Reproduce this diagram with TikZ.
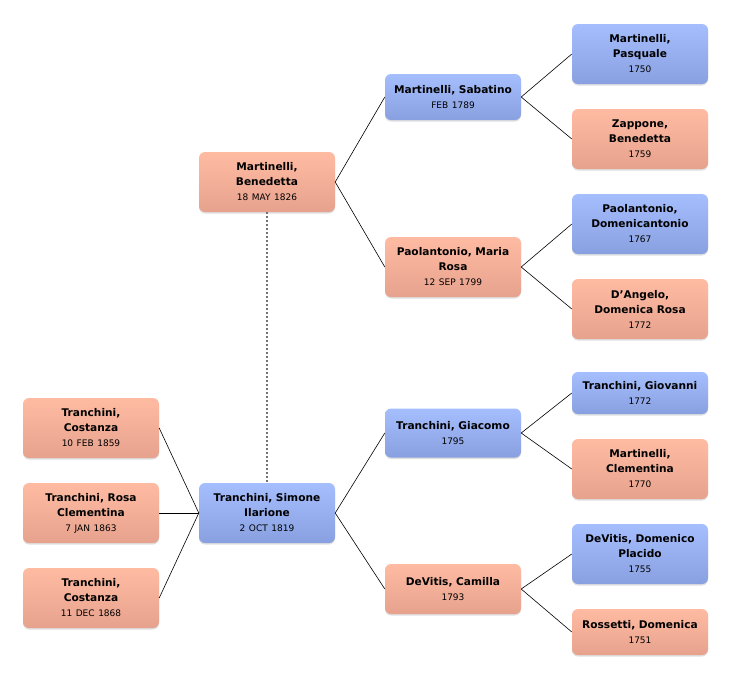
\documentclass[tikz,border=0pt]{standalone}
\usepackage{fontspec}
\setmainfont{DejaVu Sans}
\usetikzlibrary{shadows}

\definecolor{maletop}{RGB}{165,190,254}
\definecolor{malebot}{RGB}{137,160,224}
\definecolor{femtop}{RGB}{255,187,162}
\definecolor{fembot}{RGB}{230,162,141}

\newcommand{\who}[2]{#1\\{\mdseries\fontsize{9}{15}\selectfont #2}}

\tikzset{
    person/.style={rounded corners=6pt, minimum width=136pt, minimum height=46pt,
        text width=132pt, inner xsep=2pt, inner ysep=5pt, align=center,
        font=\bfseries\fontsize{10.6}{15}\selectfont,
        drop shadow={opacity=0.25, shadow xshift=0pt, shadow yshift=-1.5pt}},
    tall/.style={minimum height=60pt},
    male/.style={person, top color=maletop, bottom color=malebot},
    female/.style={person, top color=femtop, bottom color=fembot},
    link/.style={black, line width=0.6pt}
}

\begin{document}
\begin{tikzpicture}[x=1pt, y=-1pt]
        \useasboundingbox (0,0) rectangle (732,678);

        % parents and children
        \node[female, tall] (bened) at (267,182) {\who{Martinelli,\\Benedetta}{18 MAY 1826}};
        \node[male, tall] (simone) at (267,513) {\who{Tranchini, Simone\\Ilarione}{2 OCT 1819}};
        \node[female, tall] (cost1) at (91,428) {\who{Tranchini,\\Costanza}{10 FEB 1859}};
        \node[female, tall] (rosa) at (91,513) {\who{Tranchini, Rosa\\Clementina}{7 JAN 1863}};
        \node[female, tall] (cost2) at (91,598) {\who{Tranchini,\\Costanza}{11 DEC 1868}};

        % grandparents
        \node[male] (sabat) at (453,97) {\who{Martinelli, Sabatino}{FEB 1789}};
        \node[female, tall] (maria) at (453,267) {\who{Paolantonio, Maria\\Rosa}{12 SEP 1799}};
        \node[male, minimum height=49pt] (giacomo) at (453,433) {\who{Tranchini, Giacomo}{1795}};
        \node[female, minimum height=50pt] (camilla) at (453,589) {\who{DeVitis, Camilla}{1793}};

        % great-grandparents
        \node[male, tall] (pasq) at (640,54) {\who{Martinelli,\\Pasquale}{1750}};
        \node[female, tall] (zapp) at (640,139) {\who{Zappone,\\Benedetta}{1759}};
        \node[male, tall] (domant) at (640,224) {\who{Paolantonio,\\Domenicantonio}{1767}};
        \node[female, tall] (dang) at (640,309) {\who{D'Angelo,\\Domenica Rosa}{1772}};
        \node[male, minimum height=42pt] (giov) at (640,393) {\who{Tranchini, Giovanni}{1772}};
        \node[female, tall] (clem) at (640,469) {\who{Martinelli,\\Clementina}{1770}};
        \node[male, tall] (domplac) at (640,554) {\who{DeVitis, Domenico\\Placido}{1755}};
        \node[female] (ross) at (640,632) {\who{Rossetti, Domenica}{1751}};

        % connectors
        \draw[black!55, dash pattern=on 2pt off 2pt, line width=1.3pt] (bened.south) -- (simone.north);
        \draw[link] (bened.east) -- (sabat.west);
        \draw[link] (bened.east) -- (maria.west);
        \draw[link] (simone.east) -- (giacomo.west);
        \draw[link] (simone.east) -- (camilla.west);
        \draw[link] (sabat.east) -- (pasq.west);
        \draw[link] (sabat.east) -- (zapp.west);
        \draw[link] (maria.east) -- (domant.west);
        \draw[link] (maria.east) -- (dang.west);
        \draw[link] (giacomo.east) -- (giov.west);
        \draw[link] (giacomo.east) -- (clem.west);
        \draw[link] (camilla.east) -- (domplac.west);
        \draw[link] (camilla.east) -- (ross.west);
        \draw[link] (cost1.east) -- (simone.west);
        \draw[link] (rosa.east) -- (simone.west);
        \draw[link] (cost2.east) -- (simone.west);
    \end{tikzpicture}
\end{document}
